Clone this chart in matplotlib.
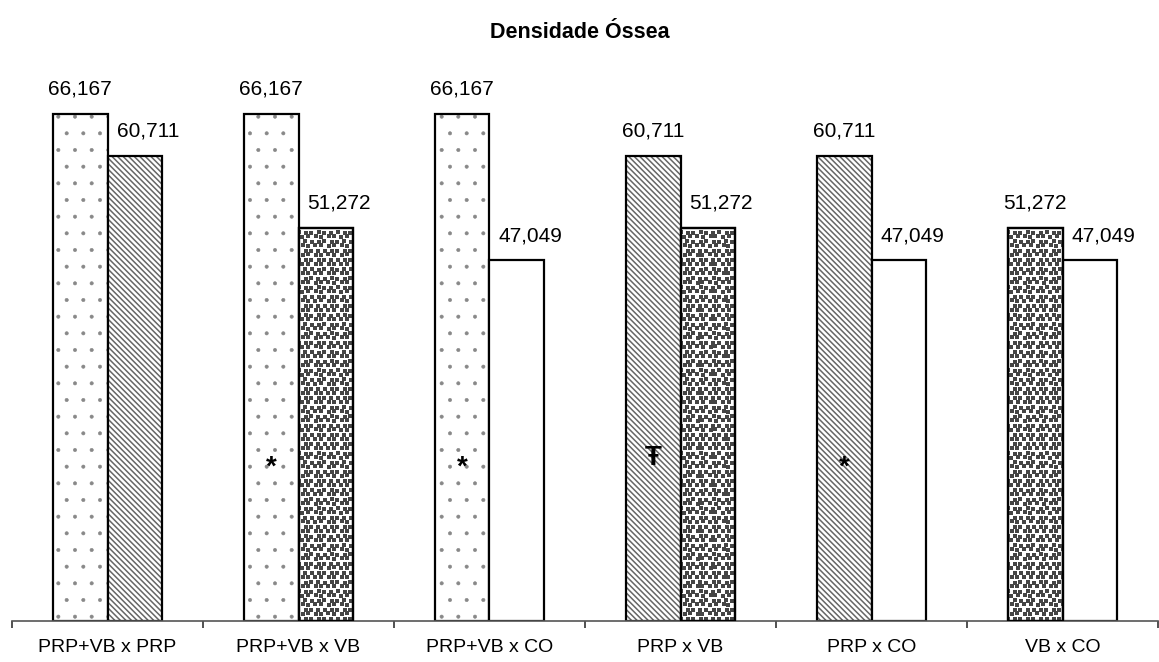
import numpy as np
import matplotlib.pyplot as plt
from matplotlib.colors import to_rgba

plt.rcParams['font.family'] = ['Liberation Sans', 'DejaVu Sans']

categories = ['PRP+VB x PRP', 'PRP+VB x VB', 'PRP+VB x CO', 'PRP x VB', 'PRP x CO', 'VB x CO']
left_values = [66.167, 66.167, 66.167, 60.711, 60.711, 51.272]
right_values = [60.711, 51.272, 47.049, 51.272, 47.049, 47.049]
left_groups = ['PRP+VB', 'PRP+VB', 'PRP+VB', 'PRP', 'PRP', 'VB']
right_groups = ['PRP', 'VB', 'CO', 'VB', 'CO', 'CO']
markers = ['', '*', '*', 'Ŧ', '*', '']
marker_y = [20, 20, 20, 21.3, 20, 20]

# padrão de cada grupo (hatch, cor, espessura); VB usa textura de quadradinhos
styles = {
    'PRP+VB': ('.', '#888888', 0.4),
    'PRP': ('\\' * 6, '#666666', 1.1),
    'VB': ('', 'black', 1.0),
    'CO': ('', 'black', 1.0),
}

fig = plt.figure(figsize=(11.59, 6.62), dpi=100)
ax = fig.add_axes([12 / 1159, 41 / 662, 1146 / 1159, 541 / 662])

x = np.arange(len(categories))
w = 0.286
ymax = 70.6
px_x = len(categories) / 1146   # unidades de dados por pixel
px_y = ymax / 541


def speckle(bar):
    # textura pontilhada densa (quadradinhos escuros)
    x0, y0 = bar.get_x(), bar.get_y()
    x1, y1 = x0 + bar.get_width(), y0 + bar.get_height()
    dx, dy = 6.5 * px_x, 4.6 * px_y
    jit = [0, 1.5, -1, 2, -1.5, 0.5]
    pts_x, pts_y = [], []
    for r, yy in enumerate(np.arange(y0 + dy / 2, y1, dy)):
        shift = (r % 2) * dx / 2
        for c, xx in enumerate(np.arange(x0 + shift, x1 + dx, dx)):
            pts_x.append(xx + jit[(c + r) % 6] * 0.5 * px_x)
            pts_y.append(yy + jit[(c * 2 + r) % 6] * 0.4 * px_y)
    sc = ax.scatter(pts_x, pts_y, marker='s', s=5, color='#454545', linewidths=0, zorder=2.5)
    sc.set_clip_path(bar)


def draw(pos, val, grp):
    hatch, hc, hlw = styles[grp]
    bars = ax.bar(pos, val, w, color='white', edgecolor='black', linewidth=1.6,
                  hatch=hatch, zorder=2)
    for p in bars.patches:
        p._hatch_color = to_rgba(hc)
        try:
            p.set_hatch_linewidth(hlw)
        except AttributeError:
            p._hatch_linewidth = hlw
        if grp == 'VB':
            speckle(p)
            # contorno por cima da textura
            ax.bar(pos, val, w, color='none', edgecolor='black', linewidth=1.6, zorder=3)
    return bars


def fmt(v):
    return f"{v:.3f}".replace('.', ',')


for i in range(len(categories)):
    draw(x[i] - w / 2, left_values[i], left_groups[i])
    draw(x[i] + w / 2, right_values[i], right_groups[i])
    ax.annotate(fmt(left_values[i]), (x[i] - w / 2, left_values[i]),
                xytext=(0, 14), textcoords='offset points', ha='center', va='baseline', fontsize=15)
    ax.annotate(fmt(right_values[i]), (x[i] + w / 2, right_values[i]),
                xytext=(9.5, 14), textcoords='offset points', ha='center', va='baseline', fontsize=15)
    if markers[i]:
        ax.text(x[i] - w / 2, marker_y[i], markers[i], ha='center', va='center',
                fontsize=20, fontweight='bold', zorder=4)

ax.set_xlim(-0.5, len(categories) - 0.5)
ax.set_ylim(0, ymax)
for s in ['top', 'right', 'left']:
    ax.spines[s].set_visible(False)
ax.spines['bottom'].set_color('#555555')
ax.spines['bottom'].set_linewidth(1.2)
ax.set_yticks([])
ax.set_xticks(x)
ax.set_xticklabels(categories, fontsize=14)
ax.tick_params(axis='x', which='major', length=0, pad=13)
ax.set_xticks(np.arange(-0.5, len(categories)), minor=True)
ax.tick_params(axis='x', which='minor', length=5, width=1.2, color='#333333')

fig.text(0.5, 1 - 32 / 662, 'Densidade Óssea', ha='center', va='center',
         fontsize=15.5, fontweight='bold')

plt.savefig('out.png', dpi=100)
